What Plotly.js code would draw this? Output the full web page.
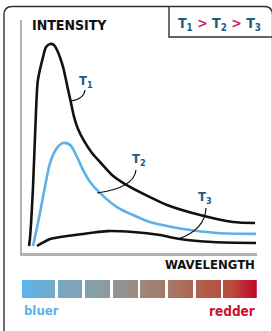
<!DOCTYPE html>
<html>
<head>
<meta charset="utf-8">
<script src="https://cdn.plot.ly/plotly-3.0.1.min.js"></script>
<style>html,body{margin:0;padding:0;background:#fff;}#chart{width:272px;height:331px;}</style>
</head>
<body>
<div id="chart"></div>
<script>
// ---- data (x: relative wavelength 0-100, y: relative intensity 0-100) ----
const t1Wavelength = [2.6, 3.0, 4.3, 5.6, 6.4, 8.6, 9.9, 11.6, 13.3, 14.6, 17.2, 18.9, 20.6, 21.9, 23.6, 26.2, 29.6, 33.0, 38.2, 43.8, 54.5, 61.8, 76.0, 90.1, 99.6];
const t1Intensity  = [3.0, 6.4, 28.3, 61.4, 74.2, 84.1, 88.4, 89.7, 89.3, 87.1, 79.8, 72.1, 64.4, 58.4, 53.2, 48.1, 42.9, 39.1, 33.5, 29.6, 24.0, 20.6, 16.3, 13.3, 12.9];
const t2Wavelength = [4.3, 7.3, 9.4, 11.6, 14.6, 17.2, 20.2, 23.2, 25.8, 28.8, 33.0, 40.3, 47.2, 54.5, 61.8, 68.7, 83.3, 100];
const t2Intensity  = [3.0, 17.2, 28.3, 38.6, 45.1, 47.2, 46.4, 41.2, 35.6, 30.5, 25.8, 19.7, 16.3, 13.3, 11.6, 10.3, 8.6, 8.2];
const t3Wavelength = [6.0, 8.2, 11.6, 18.9, 28.8, 36.1, 47.2, 58.8, 67.4, 81.5, 100];
const t3Intensity  = [3.0, 4.3, 6.0, 7.3, 8.6, 9.4, 9.0, 7.7, 6.0, 4.7, 4.3];
const seriesNames  = ['T₁', 'T₂', 'T₃'];
// spectrum strip: 8 segments (start, end) along the wavelength axis
const segmentStarts = [-0.43, 15.0, 26.6, 38.6, 50.2, 62.2, 74.2, 85.8];
const segmentEnds   = [13.7, 25.3, 37.3, 49.4, 60.9, 73.0, 85.0, 100.43];

// ---- layout helpers ----
const W = 272, H = 331, ML = 22, MR = 15, MT = 20, MB = 33;
const PW = W - ML - MR, PH = H - MT - MB;
const px = X => (X - ML) / PW;
const py = Y => (H - MB - Y) / PH;
const P = (X, Y) => px(X).toFixed(4) + ',' + py(Y).toFixed(4);

// build spectrum heatmap columns
const specX = [], specZ = [];
for (let x = -0.43; x <= 100.43; x += 0.2) {
  specX.push(x);
  let inside = false;
  for (let i = 0; i < segmentStarts.length; i++) {
    if (x >= segmentStarts[i] && x <= segmentEnds[i]) inside = true;
  }
  specZ.push(inside ? x : null);
}

const traces = [
  {x: t1Wavelength, y: t1Intensity, name: seriesNames[0], type: 'scatter', mode: 'lines',
   line: {color: '#111111', width: 2.6, shape: 'spline', smoothing: 0.8}, hoverinfo: 'skip'},
  {x: t2Wavelength, y: t2Intensity, name: seriesNames[1], type: 'scatter', mode: 'lines',
   line: {color: '#5fb0e6', width: 2.6, shape: 'spline', smoothing: 0.8}, hoverinfo: 'skip'},
  {x: t3Wavelength, y: t3Intensity, name: seriesNames[2], type: 'scatter', mode: 'lines',
   line: {color: '#111111', width: 2.6, shape: 'spline', smoothing: 0.8}, hoverinfo: 'skip'},
  {x: specX, y: [0.5], z: [specZ], type: 'heatmap', xaxis: 'x2', yaxis: 'y2',
   zmin: 0, zmax: 100, showscale: false, hoverinfo: 'skip',
   colorscale: [[0, '#5cb4ec'], [0.15, '#76a8c6'], [0.35, '#8b9ca0'], [0.5, '#9c8a7e'],
                [0.65, '#a87462'], [0.8, '#b35848'], [0.9, '#b94a3c'], [1, '#c2062a']]}
];

const labelFont = 'Liberation Sans Narrow, Arial Narrow, DejaVu Sans Condensed, sans-serif';
const tBlue = '#245a7c', mag = '#d01a78';

const annotations = [
  {xref: 'paper', yref: 'paper', x: px(30), y: py(25), xanchor: 'left', yanchor: 'middle', showarrow: false,
   text: '<b>INTENSITY</b>', font: {family: labelFont, size: 14, color: '#111'}},
  {xref: 'paper', yref: 'paper', x: px(256.5), y: py(264.5), xanchor: 'right', yanchor: 'middle', showarrow: false,
   text: '<b>WAVELENGTH</b>', font: {family: labelFont, size: 13, color: '#111'}},
  {xref: 'paper', yref: 'paper', x: px(22), y: py(310.5), xanchor: 'left', yanchor: 'middle', showarrow: false,
   text: '<b>bluer</b>', font: {family: labelFont, size: 13, color: '#5cb2e8'}},
  {xref: 'paper', yref: 'paper', x: px(257), y: py(310.5), xanchor: 'right', yanchor: 'middle', showarrow: false,
   text: '<b>redder</b>', font: {family: labelFont, size: 13.5, color: '#c8102e'}},
  {xref: 'paper', yref: 'paper', x: px(219.5), y: py(24), xanchor: 'center', yanchor: 'middle', showarrow: false,
   text: '<b><span style="color:' + tBlue + '">T<sub>1</sub></span> <span style="color:' + mag + '">&gt;</span> <span style="color:' + tBlue + '">T<sub>2</sub></span> <span style="color:' + mag + '">&gt;</span> <span style="color:' + tBlue + '">T<sub>3</sub></span></b>',
   font: {family: labelFont, size: 14, color: tBlue}},
  {xref: 'paper', yref: 'paper', x: px(86), y: py(82), xanchor: 'center', yanchor: 'middle', showarrow: false,
   text: '<b>T<sub>1</sub></b>', font: {family: labelFont, size: 13, color: tBlue}},
  {xref: 'paper', yref: 'paper', x: px(139), y: py(159), xanchor: 'center', yanchor: 'middle', showarrow: false,
   text: '<b>T<sub>2</sub></b>', font: {family: labelFont, size: 13, color: tBlue}},
  {xref: 'paper', yref: 'paper', x: px(205), y: py(197), xanchor: 'center', yanchor: 'middle', showarrow: false,
   text: '<b>T<sub>3</sub></b>', font: {family: labelFont, size: 13, color: tBlue}}
];

const shapes = [
  // outer rounded frame
  {type: 'path', xref: 'paper', yref: 'paper', line: {color: '#333', width: 1.4},
   path: 'M' + P(4, 345) + ' L' + P(4, 15) + ' Q' + P(4, 6.5) + ' ' + P(12, 6.5) + ' L' + P(264.5, 6.5) +
         ' Q' + P(272.5, 6.5) + ' ' + P(272.5, 15) + ' L' + P(272.5, 345)},
  // legend box at top right
  {type: 'path', xref: 'paper', yref: 'paper', line: {color: '#333', width: 1.4},
   path: 'M' + P(169, 6.5) + ' L' + P(169, 37) + ' L' + P(275, 37)},
  // leader lines
  {type: 'path', xref: 'paper', yref: 'paper', line: {color: '#111', width: 1.2},
   path: 'M' + P(71, 101) + ' Q' + P(84, 99) + ' ' + P(85, 90)},
  {type: 'path', xref: 'paper', yref: 'paper', line: {color: '#111', width: 1.2},
   path: 'M' + P(97, 193) + ' Q' + P(134, 188) + ' ' + P(136, 170)},
  {type: 'path', xref: 'paper', yref: 'paper', line: {color: '#111', width: 1.2},
   path: 'M' + P(178, 239) + ' Q' + P(205, 230) + ' ' + P(206, 208)}
];

const layout = {
  width: W, height: H,
  margin: {l: ML, r: MR, t: MT, b: MB, pad: 0},
  paper_bgcolor: '#fff', plot_bgcolor: 'rgba(0,0,0,0)',
  showlegend: false,
  xaxis: {range: [-0.43, 100.43], domain: [0, 1], showgrid: false, zeroline: false, showticklabels: false,
          ticks: '', showline: true, linecolor: '#b3b3b3', linewidth: 2.5, anchor: 'y', fixedrange: true},
  yaxis: {range: [0, 100], domain: [py(253), 1], showgrid: false, zeroline: false, showticklabels: false,
          ticks: '', showline: true, linecolor: '#b3b3b3', linewidth: 2.5, anchor: 'x', fixedrange: true},
  xaxis2: {range: [-0.43, 100.43], domain: [0, 1], anchor: 'y2', visible: false, fixedrange: true},
  yaxis2: {range: [0, 1], domain: [0, py(280)], anchor: 'x2', visible: false, fixedrange: true},
  annotations: annotations,
  shapes: shapes
};

Plotly.newPlot('chart', traces, layout, {staticPlot: true, displayModeBar: false});
</script>
</body>
</html>
